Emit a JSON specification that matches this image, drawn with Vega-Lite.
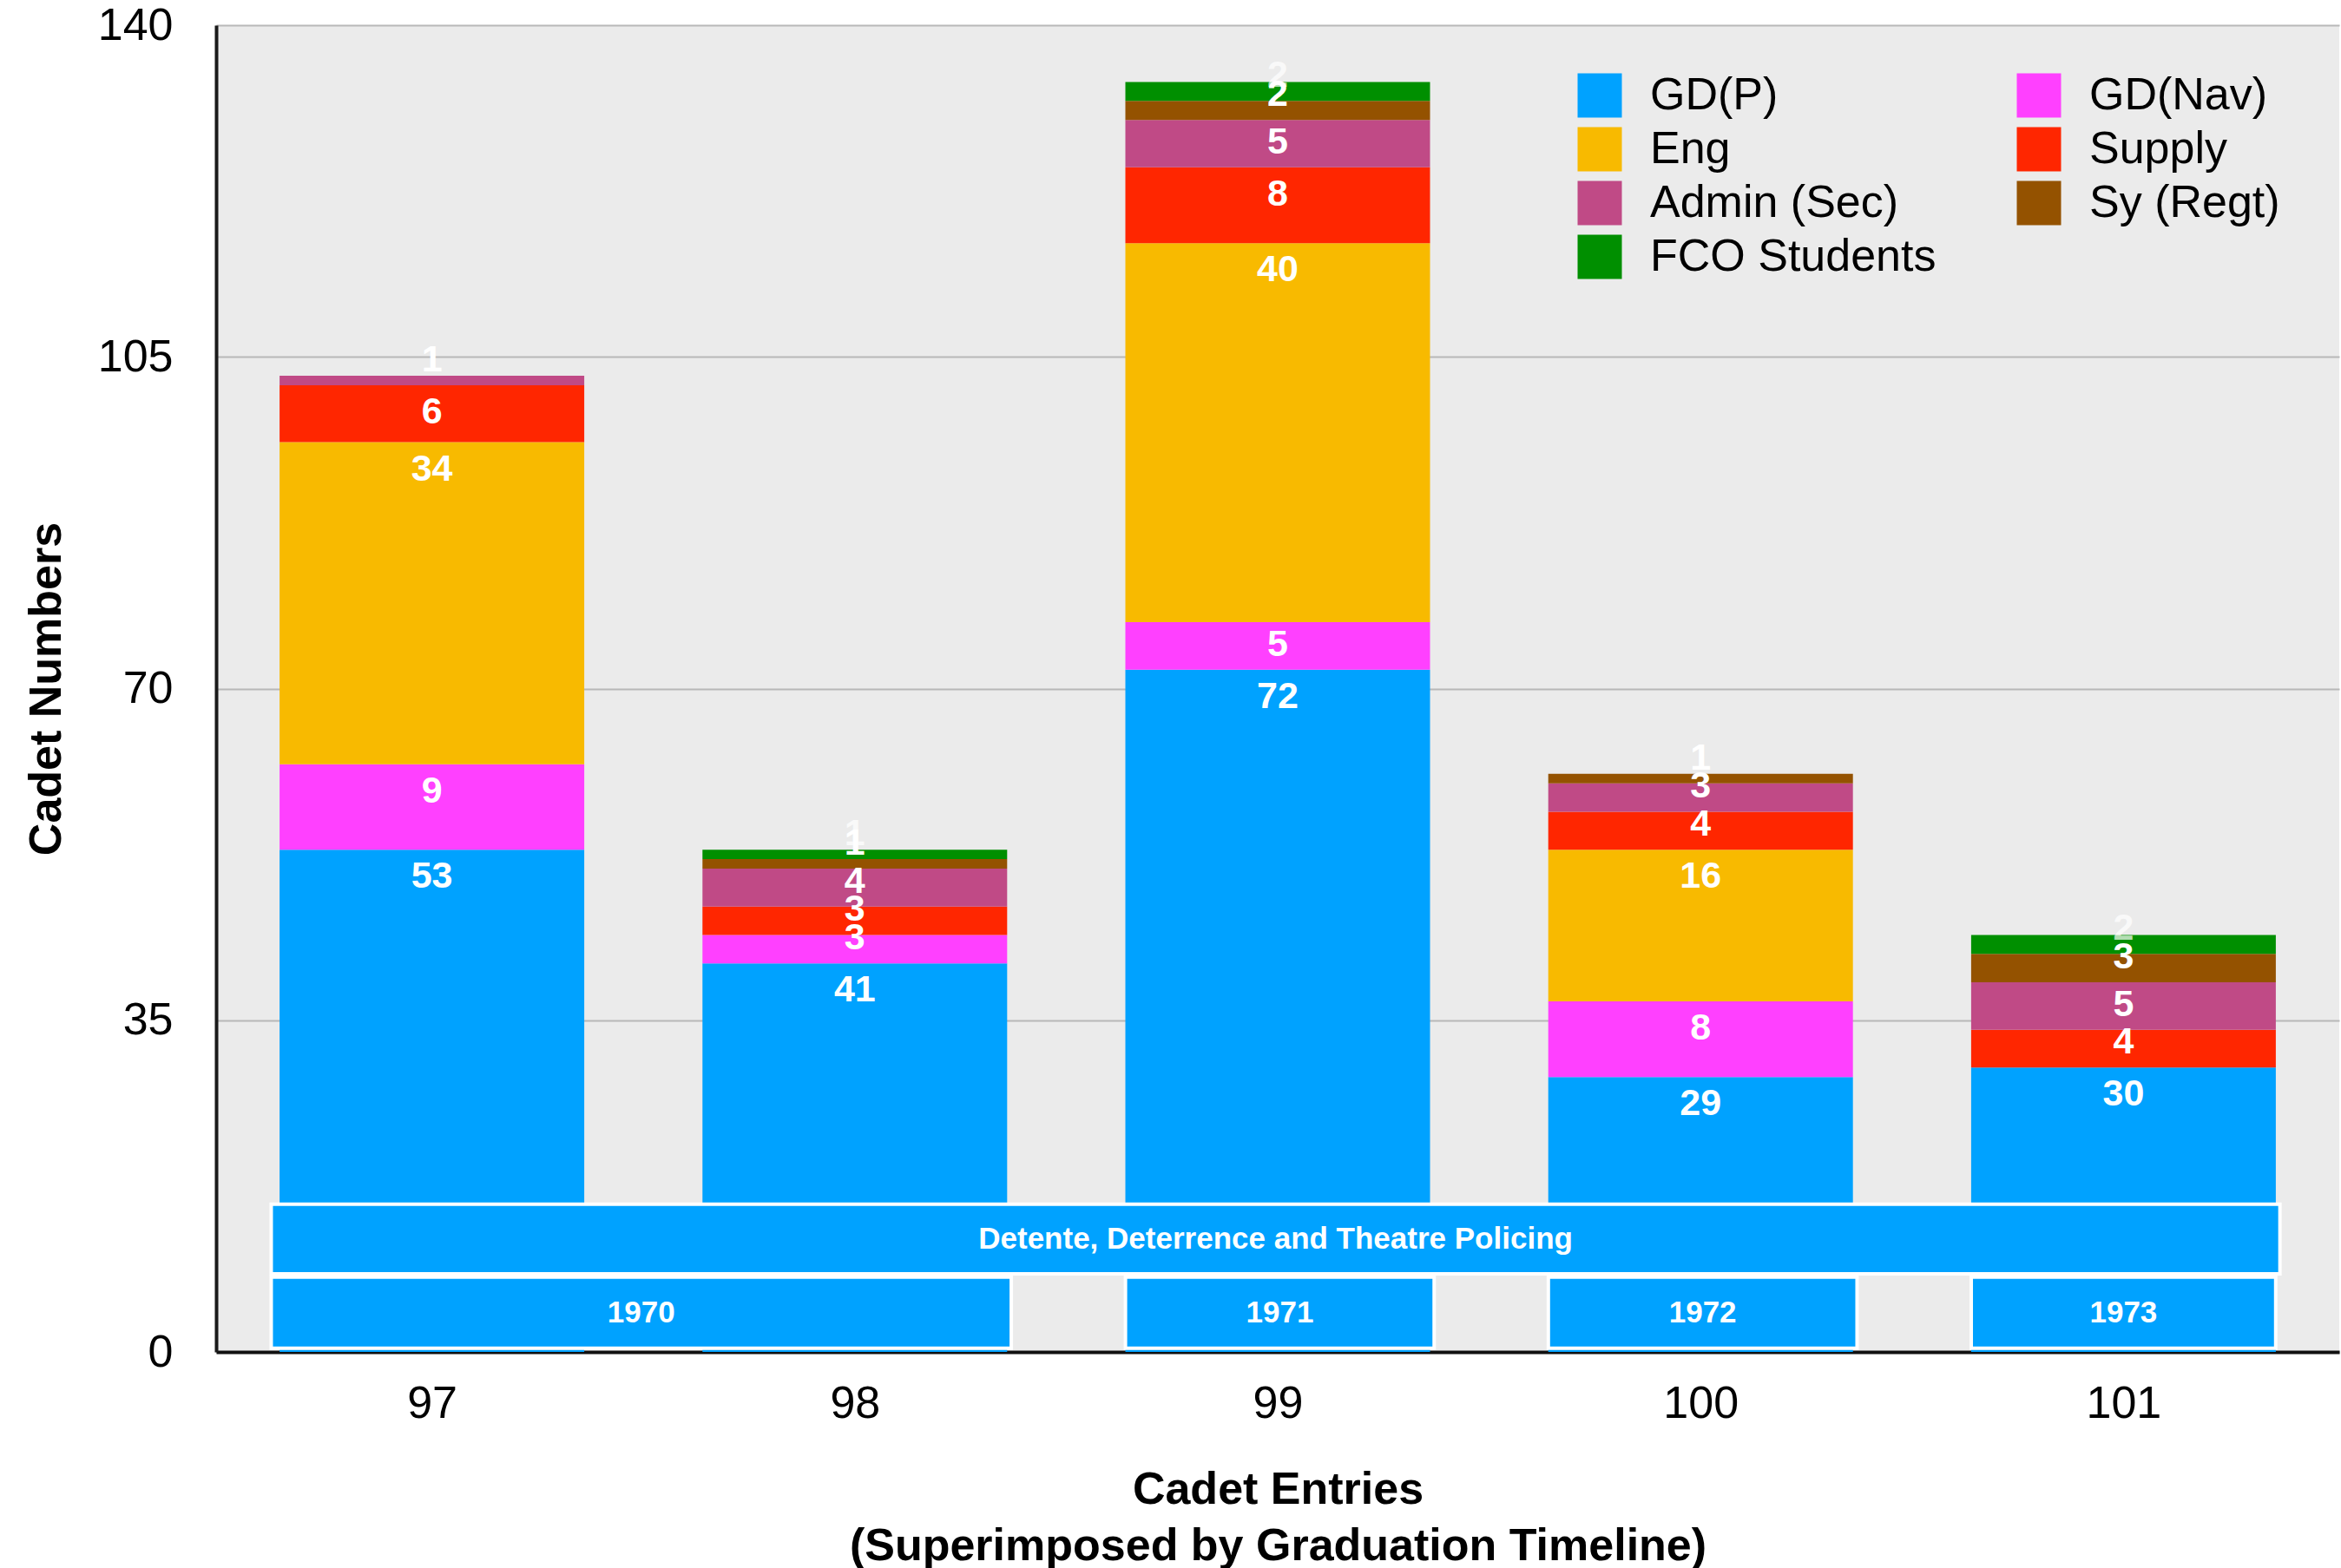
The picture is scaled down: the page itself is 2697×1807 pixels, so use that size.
{
  "$schema": "https://vega.github.io/schema/vega-lite/v6.json",
  "width": 2446,
  "height": 1529,
  "autosize": {"type": "none"},
  "padding": {"left": 249, "top": 29, "right": 2, "bottom": 249},
  "background": "white",
  "config": {
    "view": {"fill": "#EBEBEB", "stroke": null},
    "font": "Liberation Sans",
    "axisX": {
      "grid": false,
      "ticks": false,
      "tickSize": 0,
      "labelPadding": 34,
      "labelFontSize": 52,
      "labelColor": "black",
      "domainColor": "#111111",
      "domainWidth": 4,
      "titleFontSize": 52,
      "titleFontWeight": "bold",
      "titleColor": "black",
      "titleLineHeight": 65,
      "titlePadding": 48
    },
    "axisY": {
      "grid": true,
      "gridColor": "#B8B8B8",
      "gridWidth": 2,
      "ticks": false,
      "tickSize": 0,
      "labelPadding": 50,
      "labelFontSize": 52,
      "labelColor": "black",
      "domainColor": "#1A1A1A",
      "domainWidth": 4,
      "titleFontSize": 52,
      "titleFontWeight": "bold",
      "titleColor": "black",
      "titlePadding": 32
    }
  },
  "datasets": {
    "cadets": [
      {"entry": 97, "cat": "GD(P)", "value": 53},
      {"entry": 97, "cat": "GD(Nav)", "value": 9},
      {"entry": 97, "cat": "Eng", "value": 34},
      {"entry": 97, "cat": "Supply", "value": 6},
      {"entry": 97, "cat": "Admin (Sec)", "value": 1},
      {"entry": 98, "cat": "GD(P)", "value": 41},
      {"entry": 98, "cat": "GD(Nav)", "value": 3},
      {"entry": 98, "cat": "Supply", "value": 3},
      {"entry": 98, "cat": "Admin (Sec)", "value": 4},
      {"entry": 98, "cat": "Sy (Regt)", "value": 1},
      {"entry": 98, "cat": "FCO Students", "value": 1},
      {"entry": 99, "cat": "GD(P)", "value": 72},
      {"entry": 99, "cat": "GD(Nav)", "value": 5},
      {"entry": 99, "cat": "Eng", "value": 40},
      {"entry": 99, "cat": "Supply", "value": 8},
      {"entry": 99, "cat": "Admin (Sec)", "value": 5},
      {"entry": 99, "cat": "Sy (Regt)", "value": 2},
      {"entry": 99, "cat": "FCO Students", "value": 2},
      {"entry": 100, "cat": "GD(P)", "value": 29},
      {"entry": 100, "cat": "GD(Nav)", "value": 8},
      {"entry": 100, "cat": "Eng", "value": 16},
      {"entry": 100, "cat": "Supply", "value": 4},
      {"entry": 100, "cat": "Admin (Sec)", "value": 3},
      {"entry": 100, "cat": "Sy (Regt)", "value": 1},
      {"entry": 101, "cat": "GD(P)", "value": 30},
      {"entry": 101, "cat": "Supply", "value": 4},
      {"entry": 101, "cat": "Admin (Sec)", "value": 5},
      {"entry": 101, "cat": "Sy (Regt)", "value": 3},
      {"entry": 101, "cat": "FCO Students", "value": 2}
    ],
    "timeline": [
      {"label": "Detente, Deterrence and Theatre Policing", "start": 96.62, "end": 101.37, "lo": 8.25, "hi": 15.6},
      {"label": "1970", "start": 96.62, "end": 98.37, "lo": 0.4, "hi": 7.9},
      {"label": "1971", "start": 98.64, "end": 99.37, "lo": 0.4, "hi": 7.9},
      {"label": "1972", "start": 99.64, "end": 100.37, "lo": 0.4, "hi": 7.9},
      {"label": "1973", "start": 100.64, "end": 101.36, "lo": 0.4, "hi": 7.9}
    ]
  },
  "layer": [
    {
      "data": {"name": "cadets"},
      "transform": [{"stack": "value", "groupby": ["entry"], "as": ["v0", "v1"]}],
      "mark": {"type": "bar", "width": 351},
      "encoding": {
        "x": {
          "field": "entry", "type": "quantitative",
          "scale": {"domain": [96.5, 101.5], "nice": false, "zero": false},
          "axis": {"values": [97, 98, 99, 100, 101], "format": "d"},
          "title": ["Cadet Entries", "(Superimposed by Graduation Timeline)"]
        },
        "y": {
          "field": "v0", "type": "quantitative",
          "scale": {"domain": [0, 140], "nice": false},
          "axis": {"values": [0, 35, 70, 105, 140]},
          "title": "Cadet Numbers"
        },
        "y2": {"field": "v1"},
        "color": {
          "field": "cat",
          "type": "nominal",
          "scale": {
            "domain": ["GD(P)", "Eng", "Admin (Sec)", "FCO Students", "GD(Nav)", "Supply", "Sy (Regt)"],
            "range": ["#00A2FF", "#F8BA00", "#C04A86", "#008F00", "#FF40FF", "#FF2600", "#945200"]
          },
          "legend": {
            "title": null,
            "orient": "none",
            "legendX": 1568,
            "legendY": 55,
            "columns": 2,
            "columnPadding": 92,
            "rowPadding": 10,
            "padding": 0,
            "symbolType": "square",
            "symbolSize": 2601,
            "symbolStrokeWidth": 0,
            "symbolOpacity": 1,
            "labelFontSize": 52,
            "labelFont": "Liberation Sans",
            "labelColor": "black",
            "labelOffset": 32,
            "labelLimit": 0
          }
        }
      }
    },
    {
      "data": {"name": "cadets"},
      "transform": [
        {"stack": "value", "groupby": ["entry"], "as": ["v0", "v1"]},
        {"filter": "datum.value >= 6"}
      ],
      "mark": {"type": "text", "dy": 31, "baseline": "middle", "align": "center", "fontSize": 43, "fontWeight": "bold", "color": "white"},
      "encoding": {
        "x": {"field": "entry", "type": "quantitative", "title": ["Cadet Entries", "(Superimposed by Graduation Timeline)"]},
        "y": {"field": "v1", "type": "quantitative", "title": "Cadet Numbers"},
        "text": {"field": "value", "type": "quantitative"}
      }
    },
    {
      "data": {"name": "cadets"},
      "transform": [
        {"stack": "value", "groupby": ["entry"], "as": ["v0", "v1"]},
        {"filter": "datum.value <= 5"}
      ],
      "mark": {"type": "text", "dy": -29, "baseline": "middle", "align": "center", "fontSize": 43, "fontWeight": "bold", "color": "white"},
      "encoding": {
        "x": {"field": "entry", "type": "quantitative", "title": ["Cadet Entries", "(Superimposed by Graduation Timeline)"]},
        "y": {"field": "v0", "type": "quantitative", "title": "Cadet Numbers"},
        "text": {"field": "value", "type": "quantitative"},
        "opacity": {"condition": {"test": "datum.cat === 'FCO Students'", "value": 0.7}, "value": 1}
      }
    },
    {
      "data": {"name": "timeline"},
      "mark": {"type": "rect", "color": "#00A2FF", "stroke": "white", "strokeWidth": 4},
      "encoding": {
        "x": {"field": "start", "type": "quantitative", "title": ["Cadet Entries", "(Superimposed by Graduation Timeline)"]},
        "x2": {"field": "end"},
        "y": {"field": "lo", "type": "quantitative", "title": "Cadet Numbers"},
        "y2": {"field": "hi"}
      }
    },
    {
      "data": {"name": "timeline"},
      "transform": [
        {"fold": ["start", "end"], "as": ["kx", "vx"]},
        {"fold": ["lo", "hi"], "as": ["ky", "vy"]},
        {"aggregate": [{"op": "mean", "field": "vx", "as": "xm"}, {"op": "mean", "field": "vy", "as": "ym"}], "groupby": ["label"]}
      ],
      "mark": {"type": "text", "baseline": "middle", "align": "center", "fontSize": 35, "fontWeight": "bold", "color": "white"},
      "encoding": {
        "x": {"field": "xm", "type": "quantitative", "title": ["Cadet Entries", "(Superimposed by Graduation Timeline)"]},
        "y": {"field": "ym", "type": "quantitative", "title": "Cadet Numbers"},
        "text": {"field": "label", "type": "nominal"}
      }
    }
  ]
}
